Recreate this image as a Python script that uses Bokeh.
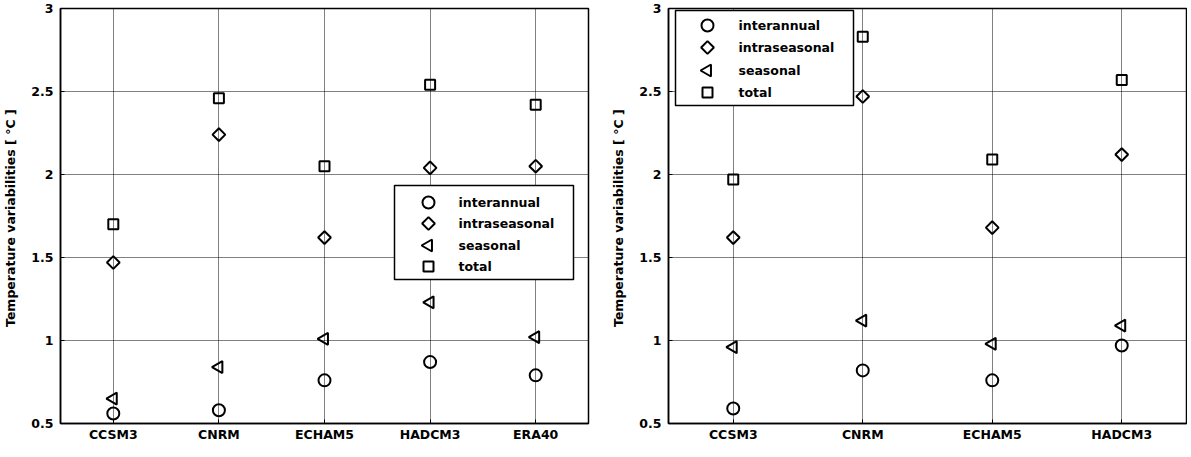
import numpy as np
from bokeh.plotting import figure
from bokeh.models import Range1d, FixedTicker
from bokeh.layouts import row
from bokeh.embed import file_html
from bokeh.resources import INLINE
from bokeh.core.properties import value

# ---------------- data ----------------
models_left = ["CCSM3", "CNRM", "ECHAM5", "HADCM3", "ERA40"]
left_interannual = [0.56, 0.58, 0.76, 0.87, 0.79]
left_intraseasonal = [1.47, 2.24, 1.62, 2.04, 2.05]
left_seasonal = [0.65, 0.84, 1.01, 1.23, 1.02]
left_total = [1.70, 2.46, 2.05, 2.54, 2.42]

models_right = ["CCSM3", "CNRM", "ECHAM5", "HADCM3"]
right_interannual = [0.59, 0.82, 0.76, 0.97]
right_intraseasonal = [1.62, 2.47, 1.68, 2.12]
right_seasonal = [0.96, 1.12, 0.98, 1.09]
right_total = [1.97, 2.83, 2.09, 2.57]

series_names = ["interannual", "intraseasonal", "seasonal", "total"]
y_ticks = [0.5, 1, 1.5, 2, 2.5, 3]
y_tick_labels = ["0.5", "1", "1.5", "2", "2.5", "3"]
y_label = "Temperature variabilities  [ °C ]"

# ---------------- styles ----------------
FONT = "DejaVu Sans"
FSIZE = "12.5px"
STYLES = {
    "interannual": dict(marker="circle", size=12, angle=0.0),
    "intraseasonal": dict(marker="square", size=9, angle=np.pi / 4),
    "seasonal": dict(marker="triangle", size=12, angle=np.pi / 2),
    "total": dict(marker="square", size=10, angle=0.0),
}
FRAME_H = 415
Y0, Y1 = 0.5, 3.0


def make_fig(cats, series, frame_w, border_left, border_right, legend_cfg):
    n = len(cats)
    xs = list(range(1, n + 1))
    x0, x1 = 0.5, n + 0.5
    p = figure(frame_width=frame_w, frame_height=FRAME_H,
               x_range=Range1d(x0, x1), y_range=Range1d(Y0, Y1),
               output_backend="svg", toolbar_location=None,
               min_border_left=border_left, min_border_right=border_right,
               min_border_top=8, min_border_bottom=17)
    p.background_fill_color = "white"
    p.border_fill_color = "white"
    p.outline_line_color = "black"
    p.outline_line_width = 1.5
    p.outline_line_alpha = 1.0

    p.xaxis.ticker = FixedTicker(ticks=xs)
    p.xaxis.major_label_overrides = {x: c for x, c in zip(xs, cats)}
    p.yaxis.ticker = FixedTicker(ticks=y_ticks)
    p.yaxis.major_label_overrides = {t: l for t, l in zip(y_ticks, y_tick_labels)}

    for ax in (p.xaxis[0], p.yaxis[0]):
        ax.axis_line_color = "black"
        ax.axis_line_width = 1.5
        ax.major_tick_in = 4
        ax.major_tick_out = 0
        ax.major_tick_line_color = "black"
        ax.minor_tick_line_color = None
        ax.major_label_text_font = FONT
        ax.major_label_text_font_style = "bold"
        ax.major_label_text_font_size = FSIZE
        ax.major_label_text_color = "black"
    p.xaxis.major_label_standoff = 3
    p.yaxis.major_label_standoff = 7
    p.yaxis.axis_label = y_label
    p.yaxis.axis_label_text_font = FONT
    p.yaxis.axis_label_text_font_style = "bold"
    p.yaxis.axis_label_text_font_size = FSIZE
    p.yaxis.axis_label_text_color = "black"
    p.yaxis.axis_label_standoff = 10

    p.grid.grid_line_color = "black"
    p.grid.grid_line_dash = "1 1"
    p.grid.grid_line_width = 1

    for name, vals in zip(series_names, series):
        st = STYLES[name]
        p.scatter(x=xs, y=vals, marker=st["marker"], size=st["size"], angle=st["angle"],
                  fill_color=None, line_color="black", line_width=2)

    # legend drawn in pixel offsets converted to data units
    def dx(px):
        return x0 + px * (x1 - x0) / frame_w

    def dy(py):
        return Y1 - py * (Y1 - Y0) / FRAME_H

    bl, br, bt, bb = legend_cfg["box"]
    p.quad(left=dx(bl), right=dx(br), top=dy(bt), bottom=dy(bb),
           fill_color="white", line_color="black", line_width=1.5)
    rows_y = legend_cfg["rows"]
    for name, ry in zip(series_names, rows_y):
        st = STYLES[name]
        p.scatter(x=[dx(legend_cfg["marker_x"])], y=[dy(ry)], marker=st["marker"],
                  size=st["size"], angle=st["angle"],
                  fill_color=None, line_color="black", line_width=2)
    p.text(x=[dx(legend_cfg["text_x"])] * len(series_names), y=[dy(r) for r in rows_y],
           text=series_names, text_font=value(FONT), text_font_style="bold",
           text_font_size=FSIZE, text_baseline="middle", text_align="left",
           text_color="black")
    return p


left = make_fig(models_left,
                [left_interannual, left_intraseasonal, left_seasonal, left_total],
                528, 54, 20,
                dict(box=(334, 513, 177, 271), rows=(194, 215, 237, 258),
                     marker_x=368, text_x=398))
right = make_fig(models_right,
                 [right_interannual, right_intraseasonal, right_seasonal, right_total],
                 518, 54, 1,
                 dict(box=(7, 185, 2, 97), rows=(17, 39, 62, 84),
                      marker_x=39, text_x=70))

layout = row(left, right)
open("out.html", "w").write(file_html(layout, INLINE))
